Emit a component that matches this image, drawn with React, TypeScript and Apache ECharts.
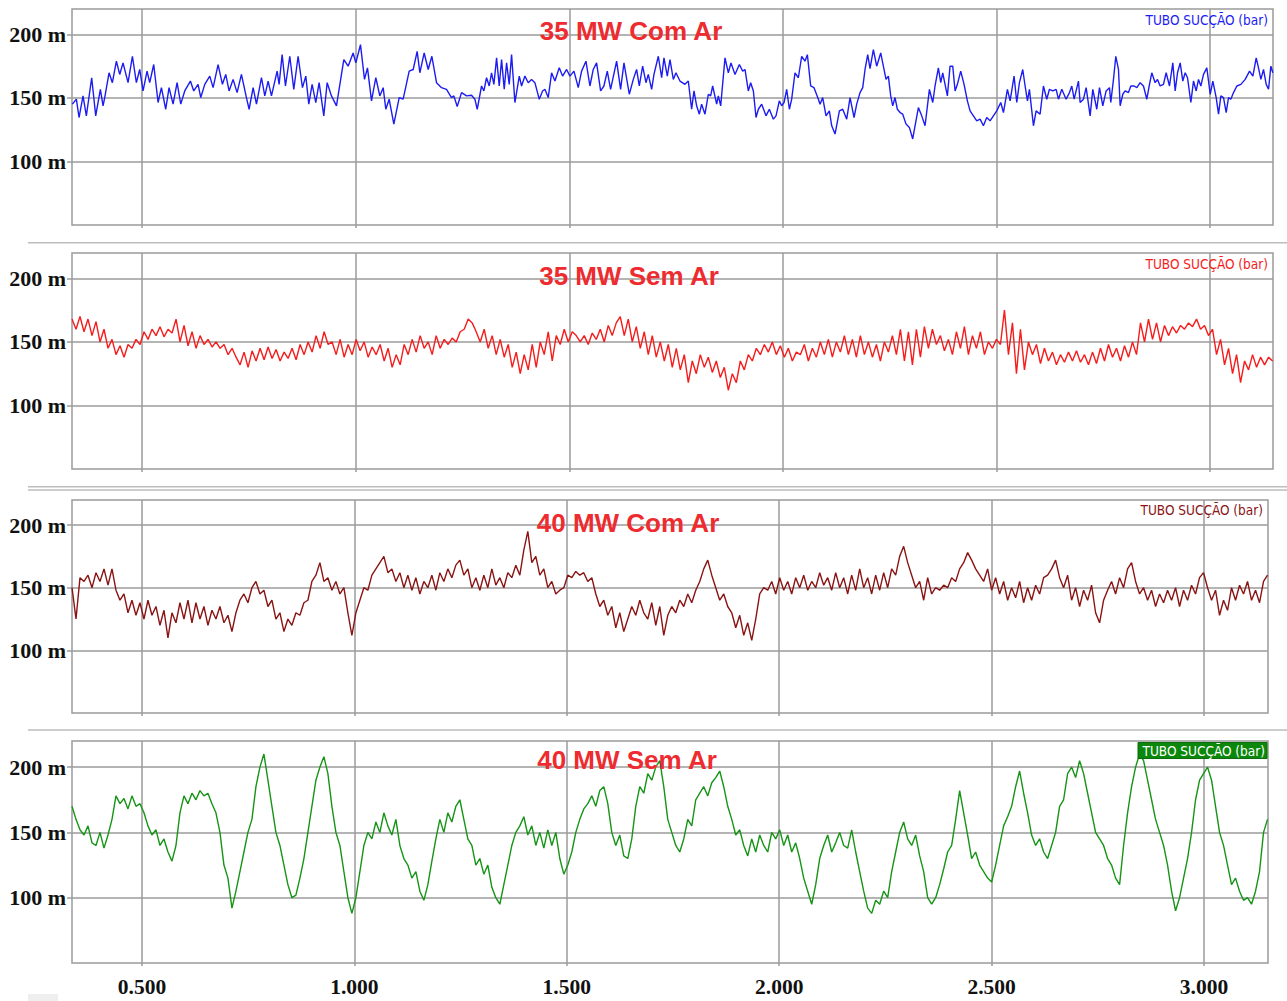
import { useEffect, useRef } from "react";
import * as echarts from "echarts";

// Axis ticks and labels
const X_TICKS = [0.5, 1.0, 1.5, 2.0, 2.5, 3.0];
const Y_TICKS = [100, 150, 200];
const PANEL_TITLES = ["35 MW Com Ar", "35 MW Sem Ar", "40 MW Com Ar", "40 MW Sem Ar"];
const SIGNAL_NAME = "TUBO SUCÇÃO (bar)";

// 35 MW, com ar — [tempo, pressão]
const comAr35: [number, number][] = [
  [0.3364, 145.1], [0.3458, 149], [0.3521, 134.6], [0.3614, 151.6], [0.3692, 135.9], [0.3817, 165.9],
  [0.3911, 135.9], [0.402, 156.8], [0.4083, 143.8], [0.4122, 150.3], [0.4223, 169.8], [0.4301, 162],
  [0.4395, 178.9], [0.4473, 168.5], [0.4551, 177.6], [0.4668, 162], [0.477, 182.8], [0.4863, 162],
  [0.4941, 172.4], [0.5019, 155.5], [0.5113, 171.1], [0.5175, 162], [0.5269, 176.3], [0.5371, 146.4],
  [0.5449, 158.1], [0.555, 141.1], [0.5628, 158.1], [0.5722, 145.1], [0.5816, 162], [0.5902, 145.1],
  [0.5995, 155.5], [0.6128, 163.3], [0.6206, 155.5], [0.6307, 160.7], [0.637, 150.3], [0.6464, 160.7],
  [0.6581, 167.2], [0.6659, 158.1], [0.6776, 176.3], [0.6877, 160.7], [0.6955, 168.5], [0.7033, 155.5],
  [0.7127, 164.6], [0.7221, 154.2], [0.7322, 168.5], [0.7439, 150.3], [0.7502, 141.1], [0.7596, 158.1],
  [0.7674, 145.1], [0.7791, 165.9], [0.7869, 151.6], [0.7947, 163.3], [0.8025, 151.6], [0.8158, 171.1],
  [0.8204, 160.7], [0.8275, 184.1], [0.8353, 159.4], [0.8454, 182.8], [0.8548, 156.8], [0.8649, 182.8],
  [0.8751, 158.1], [0.8829, 167.2], [0.8899, 145.1], [0.8977, 160.7], [0.9063, 146.4], [0.9141, 162],
  [0.925, 135.9], [0.9329, 162], [0.943, 151.6], [0.9547, 143.8], [0.9719, 180.2], [0.982, 175],
  [0.9937, 185.4], [1.0, 177.6], [1.0109, 191.9], [1.0203, 164.6], [1.0273, 173.7], [1.0367, 147.7],
  [1.0468, 165.9], [1.0562, 151.6], [1.064, 158.1], [1.0702, 141.1], [1.078, 149], [1.089, 129.4],
  [1.1015, 150.3], [1.1108, 149], [1.1249, 171.1], [1.1343, 172.4], [1.1436, 186.7], [1.1499, 169.8],
  [1.16, 185.4], [1.1694, 172.4], [1.178, 182.8], [1.1889, 162], [1.2006, 158.1], [1.2123, 156.8],
  [1.224, 150.3], [1.2295, 151.6], [1.2373, 143.2], [1.2475, 154.2], [1.2592, 151.6], [1.2709, 152.1],
  [1.2787, 149], [1.2842, 141.1], [1.2943, 159.4], [1.2998, 155.5], [1.306, 165.9], [1.3123, 159.4],
  [1.3177, 169.8], [1.3232, 160.7], [1.3295, 181.5], [1.3357, 159.4], [1.3412, 180.2], [1.3474, 156.8],
  [1.3529, 177.6], [1.3591, 160.7], [1.3646, 184.1], [1.3724, 146.4], [1.3826, 167.2], [1.388, 159.4],
  [1.3958, 167.2], [1.4036, 162], [1.4114, 164.6], [1.4192, 162], [1.4294, 149], [1.4372, 155.5],
  [1.4426, 156.8], [1.4504, 150.3], [1.4583, 169.8], [1.4661, 163.3], [1.4762, 173.7], [1.484, 167.2],
  [1.4934, 172.4], [1.5012, 167.2], [1.5106, 171.1], [1.5207, 158.1], [1.5285, 171.1], [1.5387, 178.9],
  [1.548, 159.4], [1.5558, 172.4], [1.5636, 177.6], [1.573, 155.5], [1.5808, 159.4], [1.5886, 171.1],
  [1.5964, 156.8], [1.6105, 178.9], [1.6198, 156.8], [1.6277, 177.6], [1.6402, 152.9], [1.6495, 164.6],
  [1.6573, 172.4], [1.6636, 159.4], [1.6714, 175], [1.6792, 162], [1.6846, 168.5], [1.6925, 156.8],
  [1.6979, 168.5], [1.7081, 182.8], [1.7159, 165.9], [1.7213, 181.5], [1.7291, 167.2], [1.7354, 180.2],
  [1.7432, 164.6], [1.7494, 169.8], [1.7588, 163.3], [1.7705, 160.7], [1.7783, 163.3], [1.7861, 141.1],
  [1.7916, 155.5], [1.7978, 143.8], [1.8041, 137.2], [1.8095, 145.1], [1.8173, 137.2], [1.8252, 152.9],
  [1.8306, 151.6], [1.8353, 159.4], [1.8447, 145.1], [1.8486, 151.6], [1.8541, 143.8], [1.8642, 181.5],
  [1.872, 169.8], [1.8782, 177.6], [1.8876, 168.5], [1.8978, 176.3], [1.9056, 171.1], [1.911, 172.4],
  [1.9188, 155.5], [1.9243, 162], [1.9306, 155.5], [1.9368, 134.6], [1.9423, 141.1], [1.9501, 145.1],
  [1.9602, 135.9], [1.968, 141.1], [1.9774, 133.3], [1.9836, 135.9], [1.9914, 147.7], [1.9969, 143.8],
  [2.0024, 146.4], [2.0086, 156.8], [2.0149, 141.1], [2.0203, 149], [2.0281, 169.8], [2.0359, 165.9],
  [2.0437, 182.8], [2.0515, 178.9], [2.057, 184.1], [2.0648, 159.4], [2.0726, 158.1], [2.0828, 149],
  [2.0867, 145.1], [2.0929, 150.3], [2.1007, 135.9], [2.1085, 139.8], [2.114, 128.1], [2.1218, 121.6],
  [2.132, 139.8], [2.1398, 141.1], [2.1491, 133.3], [2.1569, 150.3], [2.1663, 134.6], [2.1725, 145.1],
  [2.1803, 154.2], [2.1866, 158.1], [2.192, 172.4], [2.1983, 184.1], [2.2037, 173], [2.2115, 188],
  [2.2193, 175], [2.2287, 185.4], [2.2349, 175], [2.2412, 164.6], [2.2466, 167.2], [2.2521, 151.6],
  [2.2568, 143.8], [2.2622, 150.3], [2.2677, 141.1], [2.274, 138.5], [2.2802, 137.2], [2.288, 129.4],
  [2.2958, 126.8], [2.3036, 117.7], [2.3091, 128.1], [2.3169, 142.4], [2.3247, 135.9], [2.3325, 128.1],
  [2.3427, 156.8], [2.3505, 146.4], [2.3559, 159.4], [2.3637, 173.7], [2.3692, 162], [2.3739, 169.8],
  [2.3793, 160.7], [2.3848, 151.6], [2.391, 175], [2.3973, 175], [2.4028, 155.5], [2.4082, 160.7],
  [2.416, 171.1], [2.4238, 160.7], [2.4316, 147.7], [2.4379, 139.8], [2.4457, 135.9], [2.4535, 132],
  [2.4613, 133.3], [2.4691, 128.1], [2.4769, 134.6], [2.4847, 132], [2.4925, 135.9], [2.5003, 139.8],
  [2.5097, 146.4], [2.516, 138.5], [2.5253, 156.8], [2.5316, 147.7], [2.5409, 167.2], [2.5472, 146.4],
  [2.5534, 162], [2.5612, 172.4], [2.5667, 159.4], [2.5722, 147.7], [2.5768, 156.8], [2.5862, 128.1],
  [2.5925, 139.8], [2.6018, 137.2], [2.6096, 159.4], [2.6174, 149], [2.6237, 156.8], [2.6315, 155.5],
  [2.6393, 156.8], [2.6448, 149], [2.6526, 156.8], [2.6627, 149], [2.6705, 154.2], [2.676, 159.4],
  [2.6815, 149], [2.6916, 163.3], [2.6955, 146.4], [2.7033, 149], [2.7096, 158.1], [2.7189, 135.9],
  [2.7252, 156.8], [2.7345, 141.1], [2.7408, 158.1], [2.7486, 143.8], [2.7564, 155.5], [2.7642, 158.1],
  [2.7673, 146.4], [2.7736, 164.6], [2.779, 182.8], [2.7853, 172.4], [2.7892, 143.8], [2.7954, 152.9],
  [2.8009, 155.5], [2.8087, 154.2], [2.8142, 159.4], [2.822, 159.4], [2.8282, 158.1], [2.836, 162],
  [2.8438, 159.4], [2.8516, 149], [2.8579, 160.7], [2.8633, 169.8], [2.8711, 162], [2.8766, 164.6],
  [2.8828, 159.4], [2.8906, 160.7], [2.8969, 169.8], [2.9047, 159.4], [2.9125, 177.6], [2.918, 155.5],
  [2.9235, 169.8], [2.9297, 177.6], [2.9359, 163.3], [2.9414, 169.8], [2.9469, 165.9], [2.9547, 146.4],
  [2.9609, 163.3], [2.9672, 155.5], [2.9726, 164.6], [2.9781, 159.4], [2.9843, 168.5], [2.9921, 173.7],
  [3.0, 152.9], [3.0062, 163.3], [3.014, 150.3], [3.0195, 137.2], [3.0249, 151.6], [3.0312, 150.3],
  [3.0374, 138.5], [3.0429, 150.3], [3.0483, 149], [3.0546, 154.2], [3.0624, 159.4], [3.0718, 160.7],
  [3.0819, 164.6], [3.0921, 171.1], [3.0999, 167.2], [3.1077, 181.5], [3.1131, 173.7], [3.1186, 164.6],
  [3.1248, 172.4], [3.1311, 160.7], [3.1366, 156.8], [3.142, 175], [3.1467, 169.8],
];

// The other three records are evenly sampled: first sample time and sample step
const SEM_AR_35_START = 0.3356;
const SEM_AR_35_STEP = 0.009368;
const MW40_START = 0.3353;
const MW40_STEP = 0.009412;

// 35 MW, sem ar
const semAr35Values = [
  168, 160, 170, 158, 168, 155, 166, 150, 160, 145, 152, 140,
  147, 138, 148, 145, 152, 148, 158, 152, 160, 155, 162, 154,
  160, 157, 168, 150, 163, 147, 158, 145, 155, 148, 152, 146,
  150, 145, 148, 140, 145, 138, 132, 142, 130, 143, 135, 145,
  136, 146, 137, 144, 135, 142, 137, 145, 136, 148, 140, 150,
  142, 155, 145, 158, 148, 150, 140, 152, 138, 148, 140, 152,
  143, 150, 138, 146, 140, 148, 135, 145, 130, 140, 132, 148,
  140, 152, 142, 155, 145, 150, 140, 155, 145, 152, 148, 153,
  150, 158, 160, 168, 165, 158, 150, 160, 145, 155, 140, 152,
  138, 148, 130, 142, 125, 140, 128, 148, 130, 150, 140, 158,
  135, 155, 148, 160, 150, 158, 155, 150, 155, 148, 157, 152,
  160, 150, 163, 155, 165, 170, 155, 168, 150, 162, 145, 158,
  140, 155, 138, 150, 135, 148, 130, 145, 128, 140, 118, 135,
  125, 140, 130, 138, 126, 135, 122, 130, 112, 125, 118, 135,
  128, 140, 135, 145, 140, 148, 142, 150, 140, 147, 138, 145,
  135, 142, 140, 148, 135, 145, 138, 150, 140, 152, 138, 150,
  142, 155, 140, 152, 138, 155, 140, 150, 138, 148, 135, 150,
  142, 155, 140, 160, 135, 158, 132, 160, 138, 162, 145, 160,
  148, 155, 143, 152, 140, 158, 145, 162, 140, 155, 145, 158,
  140, 150, 145, 152, 148, 175, 140, 165, 125, 160, 128, 150,
  140, 148, 133, 145, 135, 142, 132, 140, 134, 142, 135, 143,
  134, 140, 132, 142, 133, 145, 135, 148, 138, 145, 135, 147,
  138, 150, 140, 165, 150, 168, 152, 165, 150, 163, 155, 162,
  157, 163, 160, 165, 162, 168, 160, 163, 155, 160, 140, 152,
  132, 145, 125, 140, 118, 135, 128, 140, 130, 138, 132, 138,
  135,
];

// 40 MW, com ar
const comAr40Values = [
  150, 125, 158, 155, 160, 150, 162, 155, 165, 152, 165, 148,
  140, 145, 130, 140, 128, 138, 125, 140, 128, 135, 120, 132,
  110, 130, 122, 138, 125, 140, 122, 138, 125, 135, 120, 132,
  125, 135, 122, 128, 115, 130, 140, 145, 138, 150, 155, 145,
  148, 135, 140, 125, 130, 115, 125, 120, 130, 128, 138, 140,
  155, 160, 170, 155, 158, 148, 155, 145, 150, 130, 112, 130,
  140, 150, 148, 160, 165, 170, 175, 162, 165, 155, 162, 150,
  160, 148, 158, 145, 155, 150, 160, 148, 162, 155, 165, 158,
  168, 172, 160, 165, 150, 158, 148, 160, 150, 165, 152, 158,
  150, 162, 158, 168, 160, 180, 195, 170, 175, 160, 165, 150,
  155, 145, 148, 150, 160, 158, 163, 160, 162, 155, 158, 145,
  135, 140, 128, 135, 118, 130, 115, 125, 135, 128, 140, 130,
  125, 138, 120, 135, 112, 128, 135, 130, 140, 135, 145, 138,
  148, 155, 165, 172, 160, 150, 140, 145, 135, 130, 118, 128,
  112, 122, 108, 125, 145, 150, 148, 155, 145, 158, 148, 155,
  145, 158, 150, 160, 148, 155, 150, 162, 152, 158, 148, 162,
  150, 158, 145, 160, 148, 165, 150, 158, 145, 160, 148, 162,
  150, 165, 160, 175, 183, 170, 160, 150, 155, 140, 158, 145,
  150, 148, 152, 150, 158, 155, 165, 170, 178, 172, 165, 160,
  155, 165, 148, 158, 145, 155, 140, 150, 142, 155, 138, 150,
  140, 152, 145, 158, 160, 165, 172, 158, 150, 160, 140, 150,
  135, 148, 140, 152, 130, 122, 140, 148, 155, 145, 158, 150,
  165, 170, 155, 145, 150, 140, 148, 135, 145, 138, 148, 140,
  150, 135, 148, 140, 152, 145, 158, 162, 150, 140, 148, 128,
  140, 132, 150, 140, 152, 145, 155, 140, 148, 138, 155, 160,
];

// 40 MW, sem ar
const semAr40Values = [
  170, 160, 152, 148, 155, 142, 140, 150, 138, 148, 160, 178,
  172, 176, 168, 178, 170, 172, 165, 155, 148, 152, 140, 145,
  135, 128, 140, 165, 178, 172, 180, 175, 182, 178, 180, 172,
  165, 150, 125, 115, 92, 105, 120, 135, 150, 160, 185, 200,
  210, 190, 170, 150, 140, 125, 110, 100, 102, 115, 130, 150,
  170, 190, 200, 208, 195, 170, 150, 140, 120, 100, 88, 100,
  120, 140, 150, 145, 158, 150, 165, 155, 148, 160, 140, 130,
  125, 115, 120, 105, 98, 110, 128, 145, 160, 150, 165, 158,
  170, 175, 160, 145, 140, 125, 130, 118, 125, 108, 100, 95,
  110, 125, 140, 150, 155, 162, 148, 155, 140, 150, 138, 152,
  140, 150, 130, 118, 125, 135, 150, 160, 168, 172, 178, 170,
  182, 185, 172, 150, 140, 148, 132, 130, 145, 170, 185, 180,
  195, 190, 200, 205, 185, 160, 150, 140, 135, 145, 160, 155,
  175, 180, 185, 178, 188, 192, 197, 185, 170, 160, 148, 152,
  140, 132, 145, 135, 148, 140, 135, 150, 145, 152, 140, 148,
  135, 142, 130, 115, 105, 95, 110, 130, 140, 148, 135, 142,
  150, 140, 138, 152, 135, 120, 105, 92, 88, 98, 95, 105,
  100, 120, 135, 150, 158, 145, 140, 148, 132, 120, 100, 95,
  100, 110, 122, 135, 140, 160, 182, 165, 148, 130, 135, 125,
  120, 115, 112, 125, 140, 155, 162, 170, 185, 197, 180, 165,
  148, 140, 145, 135, 130, 140, 150, 170, 175, 195, 200, 192,
  205, 195, 180, 165, 150, 145, 140, 130, 125, 115, 110, 140,
  165, 185, 200, 210, 205, 190, 175, 160, 150, 140, 125, 105,
  90, 100, 115, 130, 150, 175, 190, 195, 200, 190, 170, 150,
  140, 125, 110, 115, 105, 98, 100, 95, 105, 120, 150, 160,
];

const toPairs = (values: number[], start: number, step: number): [number, number][] =>
  values.map((v, i) => [start + i * step, v]);

const SERIES_DATA = [
  comAr35,
  toPairs(semAr35Values, SEM_AR_35_START, SEM_AR_35_STEP),
  toPairs(comAr40Values, MW40_START, MW40_STEP),
  toPairs(semAr40Values, MW40_START, MW40_STEP),
];
const LINE_COLORS = ["#1c1cf2", "#f51c1c", "#8a1414", "#159415"];

// Plot rectangles (px) and visible time span of each panel
const PANELS = [
  { left: 72, top: 9, width: 1201, height: 216, xMin: 0.3356, xMax: 3.147 },
  { left: 72, top: 253, width: 1201, height: 216, xMin: 0.3356, xMax: 3.147 },
  { left: 72, top: 500, width: 1196, height: 213, xMin: 0.3353, xMax: 3.1506 },
  { left: 72, top: 741, width: 1196, height: 222, xMin: 0.3353, xMax: 3.1506 },
];

const GRID_GRAY = "#9b9b9b";
const SEP_GRAY = "#bdbdbd";
const TITLE_RED = "#ee2b2f";
const TAG_FONT = '13.5px "Liberation Sans Narrow", "DejaVu Sans Condensed", sans-serif';

export default function App() {
  const ref = useRef<HTMLDivElement>(null);

  useEffect(() => {
    if (!ref.current) return;
    const chart = echarts.init(ref.current, undefined, { renderer: "svg" });

    const grids = PANELS.map((p) => ({
      left: p.left,
      top: p.top,
      width: p.width,
      height: p.height,
      show: true,
      borderColor: GRID_GRAY,
      borderWidth: 1.5,
      backgroundColor: "#ffffff",
    }));

    const xAxes = PANELS.map((p, i) => ({
      type: "value",
      gridIndex: i,
      min: p.xMin,
      max: p.xMax,
      axisLine: { show: false },
      axisTick: { show: true, length: 3, customValues: X_TICKS, lineStyle: { color: GRID_GRAY, width: 1.5 } },
      splitLine: { show: true, lineStyle: { color: GRID_GRAY, width: 1.5 } },
      axisLabel: {
        show: i === 3,
        customValues: X_TICKS,
        formatter: (v: number) => v.toFixed(3),
        margin: 13,
        color: "#111111",
        fontFamily: "Liberation Serif",
        fontWeight: "bold",
        fontSize: 21.5,
      },
    }));

    const yAxes = PANELS.map((_, i) => ({
      type: "value",
      gridIndex: i,
      min: 50,
      max: 220,
      axisLine: { show: false },
      axisTick: { show: true, length: 5, customValues: Y_TICKS, lineStyle: { color: GRID_GRAY, width: 1.5 } },
      splitLine: { show: true, lineStyle: { color: GRID_GRAY, width: 1.5 } },
      axisLabel: {
        customValues: Y_TICKS,
        formatter: (v: number) => `${v} m`,
        margin: 6,
        color: "#111111",
        fontFamily: "Liberation Serif",
        fontWeight: "bold",
        fontSize: 22,
      },
    }));

    const series = SERIES_DATA.map((data, i) => ({
      type: "line",
      name: PANEL_TITLES[i],
      xAxisIndex: i,
      yAxisIndex: i,
      data,
      showSymbol: false,
      symbol: "none",
      lineStyle: { color: LINE_COLORS[i], width: 1.4 },
      z: 3,
    }));

    const titleY = [31, 276, 523, 760];
    const titleX = [631, 629, 628, 627];
    const labelY = [20, 264, 510, 750];
    const labelRight = [1268, 1268, 1263, 1265];

    const graphic: any[] = [];
    // separators between panels
    [242.7, 486.7, 490, 730].forEach((y) => {
      graphic.push({
        type: "line",
        shape: { x1: 28, y1: y, x2: 1287, y2: y },
        style: { stroke: SEP_GRAY, lineWidth: 1.5 },
        silent: true,
      });
    });
    graphic.push({
      type: "rect",
      shape: { x: 28, y: 994, width: 30, height: 7 },
      style: { fill: "#efefef" },
      silent: true,
    });
    PANEL_TITLES.forEach((t, i) => {
      graphic.push({
        type: "text",
        x: titleX[i],
        y: titleY[i],
        z: 10,
        style: {
          text: t,
          fill: TITLE_RED,
          font: 'bold 26px "Liberation Sans", Arial, sans-serif',
          align: "center",
          verticalAlign: "middle",
        },
      });
    });
    // signal name tag in the corner of each panel
    [0, 1, 2].forEach((i) => {
      graphic.push({
        type: "text",
        x: labelRight[i],
        y: labelY[i],
        z: 10,
        style: {
          text: SIGNAL_NAME,
          fill: LINE_COLORS[i],
          font: TAG_FONT,
          align: "right",
          verticalAlign: "middle",
        },
      });
    });
    graphic.push({
      type: "rect",
      shape: { x: 1138, y: 742.5, width: 129, height: 16 },
      style: { fill: "#0b870b", stroke: "#0b6d0b", lineWidth: 1 },
      z: 10,
    });
    graphic.push({
      type: "text",
      x: labelRight[3],
      y: labelY[3] + 0.5,
      z: 11,
      style: {
        text: SIGNAL_NAME,
        fill: "#ffffff",
        font: TAG_FONT,
        align: "right",
        verticalAlign: "middle",
      },
    });

    chart.setOption({
      animation: false,
      backgroundColor: "#ffffff",
      grid: grids,
      xAxis: xAxes,
      yAxis: yAxes,
      series,
      graphic,
    });

    return () => chart.dispose();
  }, []);

  return (
    <div
      ref={ref}
      style={{ position: "absolute", left: 0, top: 0, width: 1287, height: 1001, background: "#ffffff" }}
    />
  );
}
